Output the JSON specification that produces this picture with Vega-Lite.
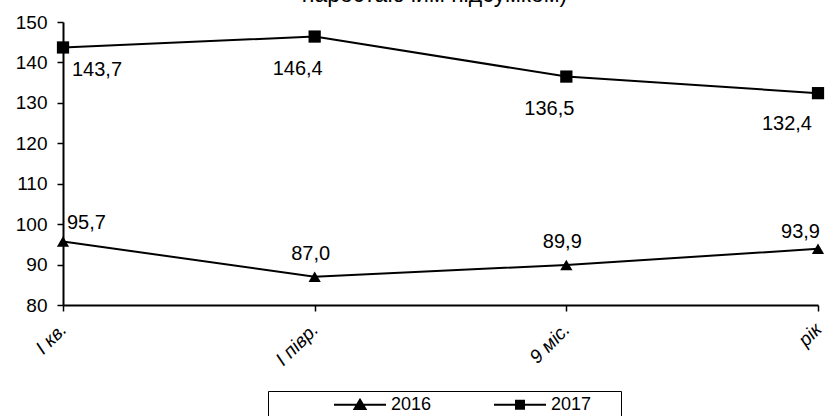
{
  "$schema": "https://vega.github.io/schema/vega-lite/v6.json",
  "width": 755,
  "height": 283,
  "autosize": "none",
  "padding": {"left": 63, "top": 22, "right": 14, "bottom": 111},
  "background": "white",
  "title": {
    "text": "наростаючим підсумком)",
    "offset": -12,
    "baseline": "alphabetic",
    "font": "Liberation Sans",
    "fontSize": 23,
    "fontWeight": "normal",
    "color": "black",
    "dx": -6
  },
  "config": {
    "view": {"stroke": null},
    "axis": {"grid": false, "domainColor": "black", "tickColor": "black", "labelColor": "black", "domainWidth": 2, "tickWidth": 1.5}
  },
  "data": {
    "values": [
      {"period": "I кв.", "year": "2016", "value": 95.7, "label": "95,7"},
      {"period": "I півр.", "year": "2016", "value": 87.0, "label": "87,0"},
      {"period": "9 міс.", "year": "2016", "value": 89.9, "label": "89,9"},
      {"period": "рік", "year": "2016", "value": 93.9, "label": "93,9"},
      {"period": "I кв.", "year": "2017", "value": 143.7, "label": "143,7"},
      {"period": "I півр.", "year": "2017", "value": 146.4, "label": "146,4"},
      {"period": "9 міс.", "year": "2017", "value": 136.5, "label": "136,5"},
      {"period": "рік", "year": "2017", "value": 132.4, "label": "132,4"}
    ]
  },
  "encoding": {
    "x": {
      "field": "period",
      "type": "ordinal",
      "sort": ["I кв.", "I півр.", "9 міс.", "рік"],
      "scale": {"type": "point", "padding": 0},
      "axis": {
        "title": null,
        "labelAngle": -45,
        "labelAlign": "right",
        "labelBaseline": "middle",
        "labelPadding": 15,
        "tickSize": 6,
        "labelFont": "Liberation Sans",
        "labelFontSize": 19,
        "labelFontStyle": "italic"
      }
    },
    "y": {
      "field": "value",
      "type": "quantitative",
      "scale": {"domain": [80, 150], "nice": false, "zero": false},
      "axis": {
        "title": null,
        "values": [80, 90, 100, 110, 120, 130, 140, 150],
        "tickSize": 6,
        "labelPadding": 10,
        "labelFont": "Liberation Sans",
        "labelFontSize": 19
      }
    }
  },
  "layer": [
    {
      "mark": {"type": "line", "color": "black", "strokeWidth": 2},
      "encoding": {"detail": {"field": "year"}}
    },
    {
      "mark": {"type": "point", "filled": true, "color": "black", "opacity": 1, "size": 150},
      "encoding": {
        "shape": {"field": "year", "type": "nominal", "scale": {"range": ["triangle-up", "square"]}, "legend": null}
      }
    },
    {
      "mark": {"type": "point", "filled": false, "color": "black", "opacity": 0, "size": 289, "strokeWidth": 2},
      "encoding": {
        "shape": {
          "field": "year",
          "type": "nominal",
          "scale": {"range": [
            "M-3.06,0H3.06M-0.65,0.5L0,-0.6L0.65,0.5ZM-0.39,0.352L0,-0.308L0.39,0.352ZM-0.13,0.203L0,-0.017L0.13,0.203Z",
            "M-3.06,0H3.06M-0.47,-0.47H0.47V0.47H-0.47ZM-0.3,-0.3H0.3V0.3H-0.3ZM-0.13,-0.13H0.13V0.13H-0.13Z"
          ]},
          "legend": {
            "orient": "none",
            "legendX": 205,
            "legendY": 369,
            "direction": "horizontal",
            "title": " ",
            "titleOrient": "right",
            "titlePadding": 26,
            "padding": 4,
            "strokeColor": "black",
            "fillColor": "white",
            "symbolSize": 289,
            "symbolOffset": 78.5,
            "symbolStrokeWidth": 2,
            "symbolStrokeColor": "black",
            "symbolFillColor": "black",
            "labelOffset": 21.5,
            "columnPadding": 0,
            "labelFont": "Liberation Sans",
            "labelFontSize": 18,
            "labelColor": "black",
            "encode": {"symbols": {"update": {"opacity": {"value": 1}, "fill": {"value": "black"}, "stroke": {"value": "black"}, "strokeWidth": {"value": 2}}}}
          }
        }
      }
    },
    {
      "transform": [{"filter": "datum.year == '2017' && datum.period == 'I кв.'"}],
      "mark": {"type": "text", "align": "left", "baseline": "middle", "dx": 9, "dy": 23, "font": "Liberation Sans", "fontSize": 20, "color": "black"},
      "encoding": {"text": {"field": "label"}}
    },
    {
      "transform": [{"filter": "datum.year == '2017' && (datum.period == 'I півр.' || datum.period == '9 міс.')"}],
      "mark": {"type": "text", "align": "center", "baseline": "middle", "dx": -17, "dy": 32, "font": "Liberation Sans", "fontSize": 20, "color": "black"},
      "encoding": {"text": {"field": "label"}}
    },
    {
      "transform": [{"filter": "datum.year == '2017' && datum.period == 'рік'"}],
      "mark": {"type": "text", "align": "right", "baseline": "middle", "dx": -6, "dy": 31, "font": "Liberation Sans", "fontSize": 20, "color": "black"},
      "encoding": {"text": {"field": "label"}}
    },
    {
      "transform": [{"filter": "datum.year == '2016' && datum.period == 'I кв.'"}],
      "mark": {"type": "text", "align": "left", "baseline": "middle", "dx": 4, "dy": -19, "font": "Liberation Sans", "fontSize": 20, "color": "black"},
      "encoding": {"text": {"field": "label"}}
    },
    {
      "transform": [{"filter": "datum.year == '2016' && (datum.period == 'I півр.' || datum.period == '9 міс.')"}],
      "mark": {"type": "text", "align": "center", "baseline": "middle", "dx": -4, "dy": -23, "font": "Liberation Sans", "fontSize": 20, "color": "black"},
      "encoding": {"text": {"field": "label"}}
    },
    {
      "transform": [{"filter": "datum.year == '2016' && datum.period == 'рік'"}],
      "mark": {"type": "text", "align": "right", "baseline": "middle", "dx": 2, "dy": -17, "font": "Liberation Sans", "fontSize": 20, "color": "black"},
      "encoding": {"text": {"field": "label"}}
    }
  ],
  "resolve": {"scale": {"shape": "independent"}, "legend": {"shape": "independent"}}
}
